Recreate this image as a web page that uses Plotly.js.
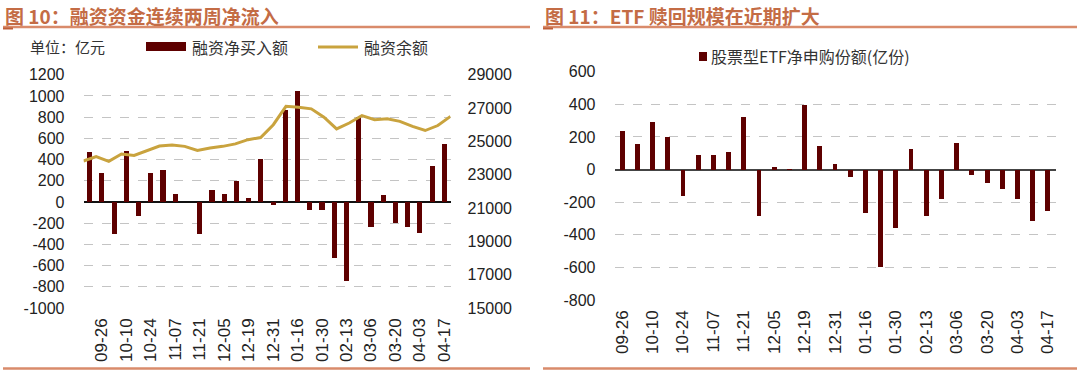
<!DOCTYPE html>
<html>
<head>
<meta charset="utf-8">
<script src="https://cdn.plot.ly/plotly-3.0.1.min.js"></script>
<style>
html,body{margin:0;padding:0;background:#fff;}
#chart{width:1080px;height:373px;}
</style>
</head>
<body>
<div id="chart"></div>
<script>
// ---- Data ----
const datesLeft = ["09-19","09-26","10-03","10-10","10-17","10-24","10-31","11-07","11-14","11-21",
  "11-28","12-05","12-12","12-19","12-26","12-31","01-09","01-16","01-23","01-30",
  "02-06","02-13","02-27","03-06","03-13","03-20","03-27","04-03","04-10","04-17"];
const marginNetBuy = [470,270,-300,485,-130,270,300,75,0,-300,
  115,77,202,42,406,-30,870,1050,-80,-80,
  -529,-743,804,-240,65,-200,-240,-293,335,545];
const marginBalance = [23820,24080,23800,24240,24150,24450,24720,24780,24700,24450,
  24600,24700,24850,25100,25230,26000,27100,27050,26950,26450,
  25750,26100,26550,26300,26350,26200,25900,25650,25950,26500];
const datesRight = ["09-26","10-03","10-10","10-17","10-24","10-31","11-07","11-14","11-21",
  "11-28","12-05","12-12","12-19","12-26","12-31","01-09","01-16","01-23","01-30",
  "02-06","02-13","02-27","03-06","03-13","03-20","03-27","04-03","04-10","04-17"];
const etfNetSub = [238,158,290,202,-165,90,90,106,325,-282,
  17,6,395,146,34,-45,-268,-598,-357,128,
  -285,-178,162,-36,-80,-120,-183,-316,-252];

// tick label values
const leftTicks = [-1000,-800,-600,-400,-200,0,200,400,600,800,1000,1200];
const balanceTicks = [15000,17000,19000,21000,23000,25000,27000,29000];
const rightTicks = [-800,-600,-400,-200,0,200,400,600];

const tickLeft = datesLeft.filter((d,i)=>i%2===1);
const tickRight = datesRight.filter((d,i)=>i%2===0);

const BAR = '#5E0000';
const GOLD = '#C9A33E';
const TITLE = '#C46C45';
const RULE = '#D98B6B';
const NUMF = 'Liberation Sans, Arial, sans-serif';
const CJKF = 'Noto Sans CJK SC, Noto Sans, sans-serif';

const W = 1080, H = 373;
const px = x => x / W;
const py = y => 1 - y / H;

const traces = [
  {type:'bar', x: datesLeft, y: marginNetBuy, xaxis:'x', yaxis:'y',
   marker:{color:BAR}, width:0.42, showlegend:false, name:'融资净买入额'},
  {type:'scatter', mode:'lines', x: datesLeft.map((d,i)=>i), y: marginBalance, xaxis:'x3', yaxis:'y2',
   line:{color:GOLD, width:3}, showlegend:false, name:'融资余额'},
  {type:'bar', x: datesRight, y: etfNetSub, xaxis:'x2', yaxis:'y3',
   marker:{color:BAR}, width:0.32, showlegend:false, name:'股票型ETF净申购份额(亿份)'}
];

const gridCommon = {showgrid:true, gridcolor:'#C4C4C4', griddash:'dash', gridwidth:1};
const tickF = {size:16, family:NUMF, color:'#222'};
const xTickF = {size:17, family:NUMF, color:'#222'};

const layout = {
  width: W, height: H,
  margin:{l:0,r:0,t:0,b:0},
  paper_bgcolor:'#fff', plot_bgcolor:'rgba(0,0,0,0)',
  font:{family:NUMF, color:'#222'},
  showlegend:false,
  bargap:0,
  xaxis:{domain:[px(83.5), px(450.5)], anchor:'y', type:'category', range:[-0.5,29.5],
    tickmode:'array', tickvals:tickLeft, ticktext:tickLeft, tickangle:-90,
    tickfont:xTickF, showgrid:false, showline:false, ticks:'',
    zeroline:false, ticklabelstandoff:6, fixedrange:true},
  xaxis3:{overlaying:'x', anchor:'y2', range:[0,29], visible:false, fixedrange:true},
  yaxis:{domain:[py(308), py(74.7)], anchor:'x', range:[-1000,1200],
    tickmode:'array', tickvals:leftTicks, ticktext:leftTicks.map(String),
    ...gridCommon, zeroline:true, zerolinecolor:'#111', zerolinewidth:1.5,
    showline:false, ticks:'', ticklabelstandoff:18,
    tickfont:tickF, fixedrange:true},
  yaxis2:{overlaying:'y', anchor:'x', side:'right', range:[15000,29000],
    tickmode:'array', tickvals:balanceTicks, ticktext:balanceTicks.map(String),
    showgrid:false, zeroline:false, showline:false, ticks:'', ticklabelstandoff:16,
    tickfont:tickF, fixedrange:true},
  xaxis2:{domain:[px(614.5), px(1055.5)], anchor:'y3', type:'category', range:[-0.5,28.5],
    tickmode:'array', tickvals:tickRight, ticktext:tickRight, tickangle:-90,
    tickfont:xTickF, showgrid:false, showline:false, ticks:'',
    zeroline:false, ticklabelstandoff:6, fixedrange:true},
  yaxis3:{domain:[py(300), py(71.7)], anchor:'x2', range:[-800,600],
    tickmode:'array', tickvals:rightTicks, ticktext:rightTicks.map(String),
    ...gridCommon, zeroline:true, zerolinecolor:'#444', zerolinewidth:2,
    showline:false, ticks:'', ticklabelstandoff:18,
    tickfont:tickF, fixedrange:true},
  shapes:[
    // title rules
    {type:'line', xref:'paper', yref:'paper', x0:px(3), x1:px(530), y0:py(27), y1:py(27), line:{color:RULE, width:2.5}},
    {type:'line', xref:'paper', yref:'paper', x0:px(3), x1:px(13), y0:py(28.5), y1:py(28.5), line:{color:'#C0603A', width:2}},
    {type:'line', xref:'paper', yref:'paper', x0:px(543), x1:px(1077), y0:py(27), y1:py(27), line:{color:RULE, width:2.5}},
    {type:'line', xref:'paper', yref:'paper', x0:px(543), x1:px(553), y0:py(28.5), y1:py(28.5), line:{color:'#C0603A', width:2}},
    // bottom rules
    {type:'line', xref:'paper', yref:'paper', x0:px(3), x1:px(530), y0:py(368.5), y1:py(368.5), line:{color:RULE, width:2.5}},
    {type:'line', xref:'paper', yref:'paper', x0:px(543), x1:px(1077), y0:py(368.5), y1:py(368.5), line:{color:RULE, width:2.5}},
    // left legend swatches
    {type:'rect', xref:'paper', yref:'paper', x0:px(146), x1:px(186), y0:py(51), y1:py(42), fillcolor:BAR, line:{width:0}},
    {type:'line', xref:'paper', yref:'paper', x0:px(318), x1:px(358), y0:py(47), y1:py(47), line:{color:GOLD, width:3}},
    // right legend swatch
    {type:'rect', xref:'paper', yref:'paper', x0:px(699), x1:px(707), y0:py(61), y1:py(52), fillcolor:BAR, line:{width:0}}
  ],
  annotations:[
    {xref:'paper', yref:'paper', x:px(3), y:py(15), xanchor:'left', yanchor:'middle', showarrow:false,
     text:'<b>图 10：融资资金连续两周净流入</b>', font:{family:CJKF, size:19, color:TITLE}},
    {xref:'paper', yref:'paper', x:px(543), y:py(15), xanchor:'left', yanchor:'middle', showarrow:false,
     text:'<b>图 11：ETF 赎回规模在近期扩大</b>', font:{family:CJKF, size:19, color:TITLE}},
    {xref:'paper', yref:'paper', x:px(28), y:py(47), xanchor:'left', yanchor:'middle', showarrow:false,
     text:'单位：亿元', font:{family:CJKF, size:15, color:'#333'}},
    {xref:'paper', yref:'paper', x:px(190), y:py(47), xanchor:'left', yanchor:'middle', showarrow:false,
     text:'融资净买入额', font:{family:CJKF, size:16, color:'#333'}},
    {xref:'paper', yref:'paper', x:px(362), y:py(47), xanchor:'left', yanchor:'middle', showarrow:false,
     text:'融资余额', font:{family:CJKF, size:16, color:'#333'}},
    {xref:'paper', yref:'paper', x:px(709), y:py(56), xanchor:'left', yanchor:'middle', showarrow:false,
     text:'股票型ETF净申购份额(亿份)', font:{family:CJKF, size:16, color:'#333'}}
  ]
};

Plotly.newPlot('chart', traces, layout, {staticPlot:true, displayModeBar:false});
</script>
</body>
</html>
